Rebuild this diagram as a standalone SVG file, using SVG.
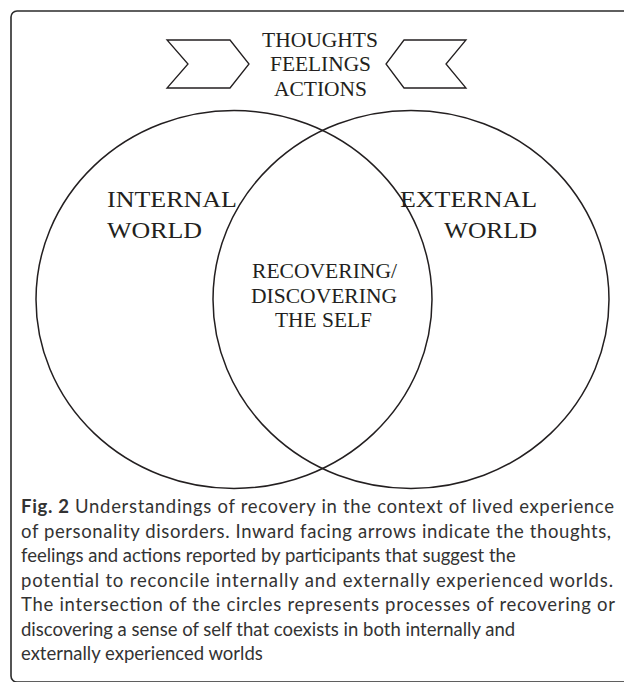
<svg xmlns="http://www.w3.org/2000/svg" width="624" height="682" viewBox="0 0 624 682">
<style>
.frame{fill:none;stroke:#2b2b2b;stroke-width:1.6}
.shape{fill:none;stroke:#231f20;stroke-width:1.5}
.chev{fill:#fff;stroke:#231f20;stroke-width:1.3;stroke-linejoin:miter}
.lbl{font-family:"Liberation Serif","Times New Roman",serif;fill:#231f20}
.cap{font-family:Lato,"Open Sans",sans-serif;font-size:18.5px;fill:#333}
.capb{font-weight:bold}
</style>
<rect width="624" height="682" fill="#fff"/>
<rect class="frame" x="11" y="11" width="700" height="671" rx="6" ry="6"/>
<g id="connectors">
<polygon class="chev" points="167,40 230,40 249,64 230,88 167,88 188,64"/>
<polygon class="chev" points="466,40 404,40 386,64 404,88 466,88 446,64"/>
</g>
<g id="internal-world">
<ellipse class="shape" cx="234" cy="299.5" rx="198" ry="189"/>
<text class="lbl" font-size="24" x="107" y="207" textLength="130" lengthAdjust="spacingAndGlyphs">INTERNAL</text>
<text class="lbl" font-size="24" x="107" y="238" textLength="95" lengthAdjust="spacingAndGlyphs">WORLD</text>
</g>
<g id="external-world">
<ellipse class="shape" cx="411" cy="299.5" rx="198" ry="189"/>
<text class="lbl" font-size="24" x="400" y="207" textLength="137" lengthAdjust="spacingAndGlyphs">EXTERNAL</text>
<text class="lbl" font-size="24" x="444" y="238" textLength="93" lengthAdjust="spacingAndGlyphs">WORLD</text>
</g>
<g id="self">
<text class="lbl" font-size="21" x="252" y="278" textLength="145" lengthAdjust="spacingAndGlyphs">RECOVERING/</text>
<text class="lbl" font-size="21" x="251" y="303" textLength="146" lengthAdjust="spacingAndGlyphs">DISCOVERING</text>
<text class="lbl" font-size="21" x="275" y="327" textLength="97" lengthAdjust="spacingAndGlyphs">THE SELF</text>
</g>
<g id="thoughts">
<text class="lbl" font-size="22" x="262" y="47" textLength="116" lengthAdjust="spacingAndGlyphs">THOUGHTS</text>
<text class="lbl" font-size="22" x="270" y="71" textLength="101" lengthAdjust="spacingAndGlyphs">FEELINGS</text>
<text class="lbl" font-size="22" x="274" y="96" textLength="93" lengthAdjust="spacingAndGlyphs">ACTIONS</text>
</g>
<g id="caption">
<text class="cap" x="21" y="513" textLength="593" lengthAdjust="spacing"><tspan class="capb">Fig. 2</tspan> Understandings of recovery in the context of lived experience</text>
<text class="cap" x="21" y="537.5" textLength="590" lengthAdjust="spacing">of personality disorders. Inward facing arrows indicate the thoughts,</text>
<text class="cap" x="21" y="562">feelings and actions reported by participants that suggest the</text>
<text class="cap" x="21" y="586.5" textLength="592" lengthAdjust="spacing">potential to reconcile internally and externally experienced worlds.</text>
<text class="cap" x="21" y="611" textLength="594" lengthAdjust="spacing">The intersection of the circles represents processes of recovering or</text>
<text class="cap" x="21" y="635.5">discovering a sense of self that coexists in both internally and</text>
<text class="cap" x="21" y="660">externally experienced worlds</text>
</g>
</svg>
